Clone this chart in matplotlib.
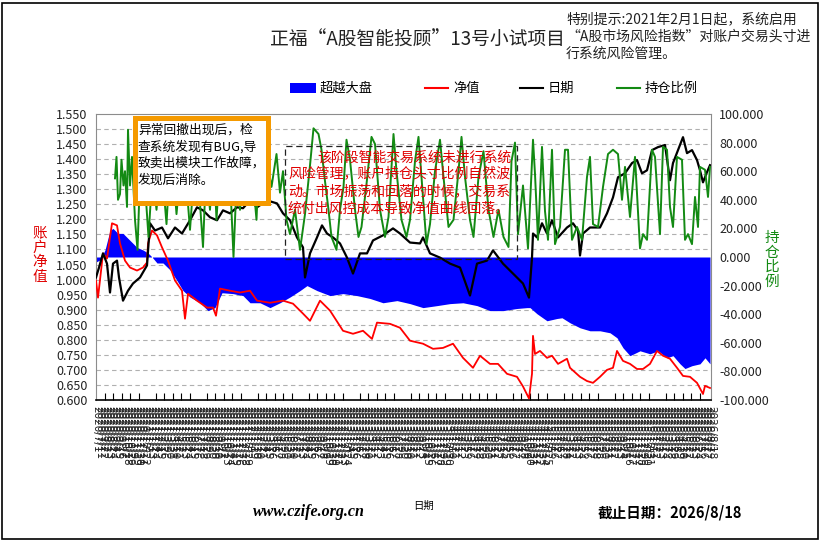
import numpy as np
import pandas as pd
import matplotlib
matplotlib.use('Agg')
import matplotlib.pyplot as plt
from matplotlib.patches import Rectangle
from matplotlib.lines import Line2D
from matplotlib.ticker import FormatStrFormatter

plt.rcParams['font.family'] = ['Noto Sans CJK SC', 'DejaVu Sans']
plt.rcParams['axes.unicode_minus'] = False

# ---------------- data ----------------
N_DAYS = 1231
DATE_START, DATE_END = '2020-07-01', '2026-08-18'

nav_day = [0, 4, 14, 22, 32, 42, 48, 58, 68, 82,
           94, 102, 104, 112, 122, 132, 144, 158, 172, 178,
           184, 202, 222, 234, 240, 248, 268, 288, 308, 322,
           348, 374, 394, 414, 428, 448, 468, 494, 514, 534,
           552, 562, 588, 608, 628, 654, 674, 694, 714, 734,
           754, 768, 788, 804, 822, 842, 854, 866, 872, 874,
           878, 888, 902, 912, 924, 942, 948, 968, 982, 994,
           1008, 1022, 1034, 1042, 1054, 1068, 1082, 1094, 1108, 1122,
           1134, 1148, 1162, 1174, 1188, 1202, 1214, 1218, 1228]
nav_val = [0.997, 0.94, 1.087, 1.07, 1.187, 1.18, 1.12, 1.063, 1.04, 1.03,
           1.04, 1.057, 1.12, 1.163, 1.147, 1.107, 1.063, 0.997, 0.963, 0.87,
           0.953, 0.93, 0.907, 0.907, 0.88, 0.97, 0.963, 0.957, 0.963, 0.93,
           0.923, 0.93, 0.92, 0.887, 0.863, 0.93, 0.897, 0.83, 0.82, 0.83,
           0.803, 0.857, 0.853, 0.84, 0.797, 0.787, 0.77, 0.773, 0.787, 0.74,
           0.707, 0.747, 0.72, 0.72, 0.687, 0.677, 0.645, 0.605, 0.687, 0.813,
           0.753, 0.763, 0.74, 0.747, 0.72, 0.737, 0.707, 0.677, 0.663, 0.657,
           0.677, 0.70, 0.707, 0.763, 0.73, 0.72, 0.703, 0.703, 0.72, 0.763,
           0.747, 0.737, 0.707, 0.68, 0.677, 0.657, 0.62, 0.647, 0.64]

idx_day = [0, 6, 14, 22, 28, 34, 42, 46, 54, 64,
           74, 88, 102, 108, 118, 132, 144, 158, 172, 188,
           202, 214, 228, 242, 254, 268, 282, 294, 308, 322,
           342, 362, 374, 388, 402, 414, 418, 428, 442, 452,
           462, 474, 488, 502, 514, 528, 542, 554, 574, 594,
           608, 628, 648, 654, 668, 688, 708, 728, 748, 762,
           782, 794, 814, 834, 854, 866, 872, 874, 882, 892,
           902, 912, 924, 942, 954, 964, 968, 974, 988, 1008,
           1022, 1034, 1044, 1058, 1072, 1082, 1092, 1102, 1112, 1124,
           1138, 1148, 1154, 1164, 1174, 1182, 1192, 1202, 1208, 1214,
           1222, 1228]
idx_val = [1.007, 1.04, 1.087, 1.053, 0.957, 1.053, 1.063, 1.007, 0.93, 0.963,
           0.987, 1.007, 1.047, 1.187, 1.163, 1.173, 1.137, 1.173, 1.153, 1.197,
           1.24, 1.23, 1.207, 1.197, 1.23, 1.22, 1.24, 1.237, 1.263, 1.24,
           1.263, 1.253, 1.22, 1.197, 1.14, 1.107, 1.007, 1.087, 1.14, 1.18,
           1.153, 1.14, 1.12, 1.073, 1.02, 1.087, 1.087, 1.13, 1.147, 1.17,
           1.153, 1.123, 1.12, 1.14, 1.087, 1.073, 1.053, 1.04, 0.947, 1.053,
           1.063, 1.097, 1.053, 1.02, 0.987, 0.94, 1.073, 1.153, 1.14, 1.187,
           1.153, 1.197, 1.14, 1.173, 1.187, 1.163, 1.08, 1.153, 1.173, 1.173,
           1.22, 1.273, 1.34, 1.353, 1.387, 1.397, 1.353, 1.363, 1.43, 1.44,
           1.447, 1.33, 1.387, 1.43, 1.473, 1.42, 1.43, 1.397, 1.363, 1.323,
           1.357, 1.38]

exc_day = [0, 8, 18, 28, 34, 44, 54, 68, 82, 94,
           104, 112, 122, 134, 148, 162, 174, 188, 208, 224,
           238, 252, 274, 294, 308, 328, 348, 368, 388, 408,
           422, 442, 468, 494, 522, 548, 574, 602, 628, 654,
           682, 708, 734, 762, 788, 814, 842, 862, 868, 882,
           902, 922, 932, 948, 968, 988, 1008, 1028, 1042, 1054,
           1068, 1088, 1108, 1124, 1142, 1154, 1168, 1178, 1192, 1208,
           1218, 1228]
exc_val = [-3.5, -2, 4.9, 18.6, 20, 16.5, 16.5, 11.6, 6.7, 4.9,
           2.8, 0, -4.2, -4.2, -9, -16.5, -23.5, -28, -32, -37.5,
           -35.4, -25, -25.6, -27, -32, -32, -35.4, -32, -28, -23.5,
           -20, -23.5, -27, -25.6, -27, -29, -32, -30.5, -32.6, -35.4,
           -34, -32.6, -32, -34, -37.5, -37.5, -36, -35.4, -35.4, -39.7,
           -44.6, -43, -42.5, -46, -49.5, -51.6, -51.6, -53, -56.5, -63.5,
           -69, -65.6, -67.7, -65.6, -70.5, -69, -74.7, -78, -76, -74.7,
           -70.5, -74.7]

pos_day = [38, 41, 44, 48, 51, 55, 58, 62, 64, 68,
           72, 78, 83, 88, 95, 100, 105, 113, 121, 130,
           141, 150, 161, 170, 180, 188, 200, 214, 220, 228,
           235, 241, 248, 255, 265, 275, 282, 288, 295, 301,
           310, 321, 328, 335, 343, 351, 361, 368, 374, 381,
           388, 398, 408, 418, 428, 435, 445, 451, 458, 465,
           471, 481, 488, 495, 501, 508, 518, 525, 531, 541,
           551, 558, 568, 578, 585, 595, 601, 611, 621, 628,
           638, 645, 651, 661, 668, 678, 688, 695, 705, 715,
           725, 731, 738, 748, 755, 765, 775, 785, 795, 805,
           815, 825, 831, 838, 844, 854, 864, 874, 878, 884,
           892, 898, 904, 912, 918, 928, 938, 944, 952, 962,
           972, 982, 988, 994, 1004, 1014, 1024, 1034, 1044, 1052,
           1058, 1068, 1078, 1088, 1094, 1102, 1112, 1118, 1128, 1134,
           1142, 1148, 1154, 1162, 1172, 1178, 1184, 1192, 1198, 1204,
           1208, 1218, 1224, 1228]
pos_val = [55, 70, 40, 44, 68, 50, 60, 35, 89, 50,
           70, 26, 5, 57, 75, 40, 14, 60, 33, 70,
           23, 80, 30, 65, 55, 19, 78, 7, 60, 33,
           72, 26, 68, 40, 80, 0, 60, 33, 75, 49,
           70, 26, 85, 40, 65, 49, 72, 45, 60, 26,
           16, 33, 5, 30, 64, 90, 86, 75, 53, 33,
           14, 5, 33, 49, 82, 68, 33, 14, 21, 51,
           84, 79, 33, 14, 28, 86, 60, 26, 14, 26,
           67, 84, 56, 9, 23, 60, 82, 56, 21, 26,
           60, 84, 56, 26, 14, 56, 74, 33, 14, 33,
           14, 7, 67, 80, 16, 50, 6, 82, 58, 12,
           77, 32, 12, 75, 9, 21, 75, 75, 12, 21,
           12, 56, 70, 23, 21, 49, 72, 75, 72, 40,
           63, 28, 70, 6, 16, 12, 75, 70, 16, 77,
           75, 35, 21, 70, 68, 12, 16, 9, 42, 21,
           63, 61, 42, 63]

left_ticks = np.round(np.arange(0.60, 1.5501, 0.05), 3)
right_ticks = np.arange(-100, 101, 20)

title = '正福“A股智能投顾”13号小试项目'
note_lines = ['特别提示:2021年2月1日起，系统启用',
              '“A股市场风险指数”对账户交易头寸进',
              '行系统风险管理。']
legend_labels = ['超越大盘', '净值', '日期', '持仓比例']
box1_lines = ['异常回撤出现后，检', '查系统发现有BUG,导', '致卖出模块工作故障，', '发现后消除。']
box2_lines = ['该阶段智能交易系统未进行系统', '风险管理，账户持仓头寸比例自然波',
              '动。市场振荡和回落的时候，交易系', '统付出风控成本导致净值曲线回落。']

BLUE, RED, BLACK, GREEN = '#0000FF', '#FF0000', '#000000', '#138A13'

# ---------------- figure ----------------
W, H = 822, 542
fig = plt.figure(figsize=(W / 100, H / 100), dpi=100)
fig.patch.set_facecolor('white')

def fx(px):
    return px / W

def fy(py):
    return 1 - py / H

axR = fig.add_axes([fx(96), fy(400), fx(711) - fx(96), fy(114) - fy(400)])
axL = axR.twinx()
axG = axR.twinx()
axR.yaxis.tick_right()
axL.yaxis.tick_left()

# percent axis (bottom layer): grid + excess area
axR.set_ylim(-100, 100)
axR.set_xlim(0, N_DAYS - 1)
axR.set_yticks(right_ticks)
axR.yaxis.set_major_formatter(FormatStrFormatter('%.3f'))
axR.set_yticks(np.linspace(-100, 100, len(left_ticks)), minor=True)
axR.grid(True, which='minor', axis='y', color='#B0B0B0', linestyle=(0, (4, 3)), linewidth=0.8)
axR.tick_params(axis='y', which='both', length=0, labelsize=9, pad=6, labelcolor='#222222')
axR.fill_between(exc_day, 0, exc_val, color=BLUE, linewidth=0, zorder=2)

# dates on x
dates = pd.date_range(DATE_START, DATE_END, periods=N_DAYS)
lab_idx = np.arange(0, N_DAYS, 6)
lab_txt = [f'{dates[i].year}/{dates[i].month}/{dates[i].day}' for i in lab_idx]
axR.set_xticks(lab_idx)
axR.set_xticklabels(lab_txt, rotation=-90, fontsize=7.5, family='DejaVu Sans', color='#222222')
axR.set_xticks(np.arange(0, N_DAYS, 17), minor=True)
axR.tick_params(axis='x', which='major', length=0, pad=4)
axR.tick_params(axis='x', which='minor', length=5, direction='in', color='black', width=0.8)

for s in ['top', 'right', 'left']:
    axR.spines[s].set_color('#8C8C8C')
axR.spines['bottom'].set_color('black')
axR.spines['bottom'].set_linewidth(1.2)

# NAV axis (middle layer)
axL.set_ylim(0.60, 1.55)
axL.set_yticks(left_ticks)
axL.yaxis.set_major_formatter(FormatStrFormatter('%.3f'))
axL.tick_params(axis='y', length=0, labelsize=9, pad=6, labelcolor='#222222')
axL.plot(nav_day, nav_val, color=RED, linewidth=1.3, zorder=3)
axL.plot(idx_day, idx_val, color=BLACK, linewidth=1.6, zorder=3)
for s in axL.spines.values():
    s.set_visible(False)

# position ratio (top layer)
axG.set_ylim(-100, 100)
axG.set_yticks([])
axG.plot(pos_day, pos_val, color=GREEN, linewidth=1.4)
for s in axG.spines.values():
    s.set_visible(False)

# ---------------- texts ----------------
fig.text(fx(417), fy(40), title, ha='center', va='center', fontsize=13.5, color='#222222')
for i, line in enumerate(note_lines):
    fig.text(fx(566), fy(19 + 17.5 * i), line, ha='left', va='center', fontsize=10, color='#222222')

# legend
fig.add_artist(Rectangle((fx(290), fy(93)), fx(316) - fx(290), fy(83) - fy(93),
                         transform=fig.transFigure, facecolor=BLUE, edgecolor='none'))
fig.text(fx(320), fy(88), legend_labels[0], ha='left', va='center', fontsize=9.5)
for (x0, col, lab) in [(425, RED, legend_labels[1]), (520, BLACK, legend_labels[2]), (617, GREEN, legend_labels[3])]:
    fig.add_artist(Line2D([fx(x0), fx(x0 + 23)], [fy(88), fy(88)], transform=fig.transFigure,
                          color=col, linewidth=1.5))
    fig.text(fx(x0 + 28), fy(88), lab, ha='left', va='center', fontsize=9.5)

# axis titles (vertical stacked characters)
for i, ch in enumerate('账户净值'):
    fig.text(fx(40), fy(233 + 14.5 * i), ch, ha='center', va='center', fontsize=10.5, color='#E00000')
for i, ch in enumerate(legend_labels[3]):
    fig.text(fx(772), fy(238 + 14.5 * i), ch, ha='center', va='center', fontsize=10.5, color=GREEN)

# orange annotation box
fig.add_artist(Rectangle((fx(135), fy(203)), fx(268) - fx(135), fy(118) - fy(203),
                         transform=fig.transFigure, facecolor='white', edgecolor='#F59A00',
                         linewidth=3.6, zorder=5))
for i, line in enumerate(box1_lines):
    fig.text(fx(138), fy(130 + 16.7 * i), line, ha='left', va='center', fontsize=9.2,
             color='black', zorder=6)

# dashed annotation box
fig.add_artist(Rectangle((fx(285), fy(259)), fx(517) - fx(285), fy(146) - fy(259),
                         transform=fig.transFigure, facecolor='none', edgecolor='#222222',
                         linewidth=0.9, linestyle=(0, (5, 3)), zorder=5))
for i, line in enumerate(box2_lines):
    fig.text(fx(317 if i == 0 else 288), fy(157 + 17.3 * i), line, ha='left', va='center',
             fontsize=10, color='#E00000', zorder=6)

# footer
fig.text(fx(253), fy(512), 'www.czife.org.cn', ha='left', va='center', fontsize=11.5,
         family='Liberation Serif', weight='bold', style='italic')
fig.text(fx(413), fy(506), '日期', ha='left', va='center', fontsize=7.5)
fig.text(fx(598), fy(512), '截止日期：2026/8/18', ha='left', va='center', fontsize=10.5,
         weight='bold', style='italic')

# outer frame
fig.add_artist(Rectangle((fx(2), fy(539)), fx(818) - fx(2), fy(3) - fy(539),
                         transform=fig.transFigure, facecolor='none', edgecolor='black', linewidth=1.2))

fig.savefig('out.png', dpi=100, facecolor='white')
